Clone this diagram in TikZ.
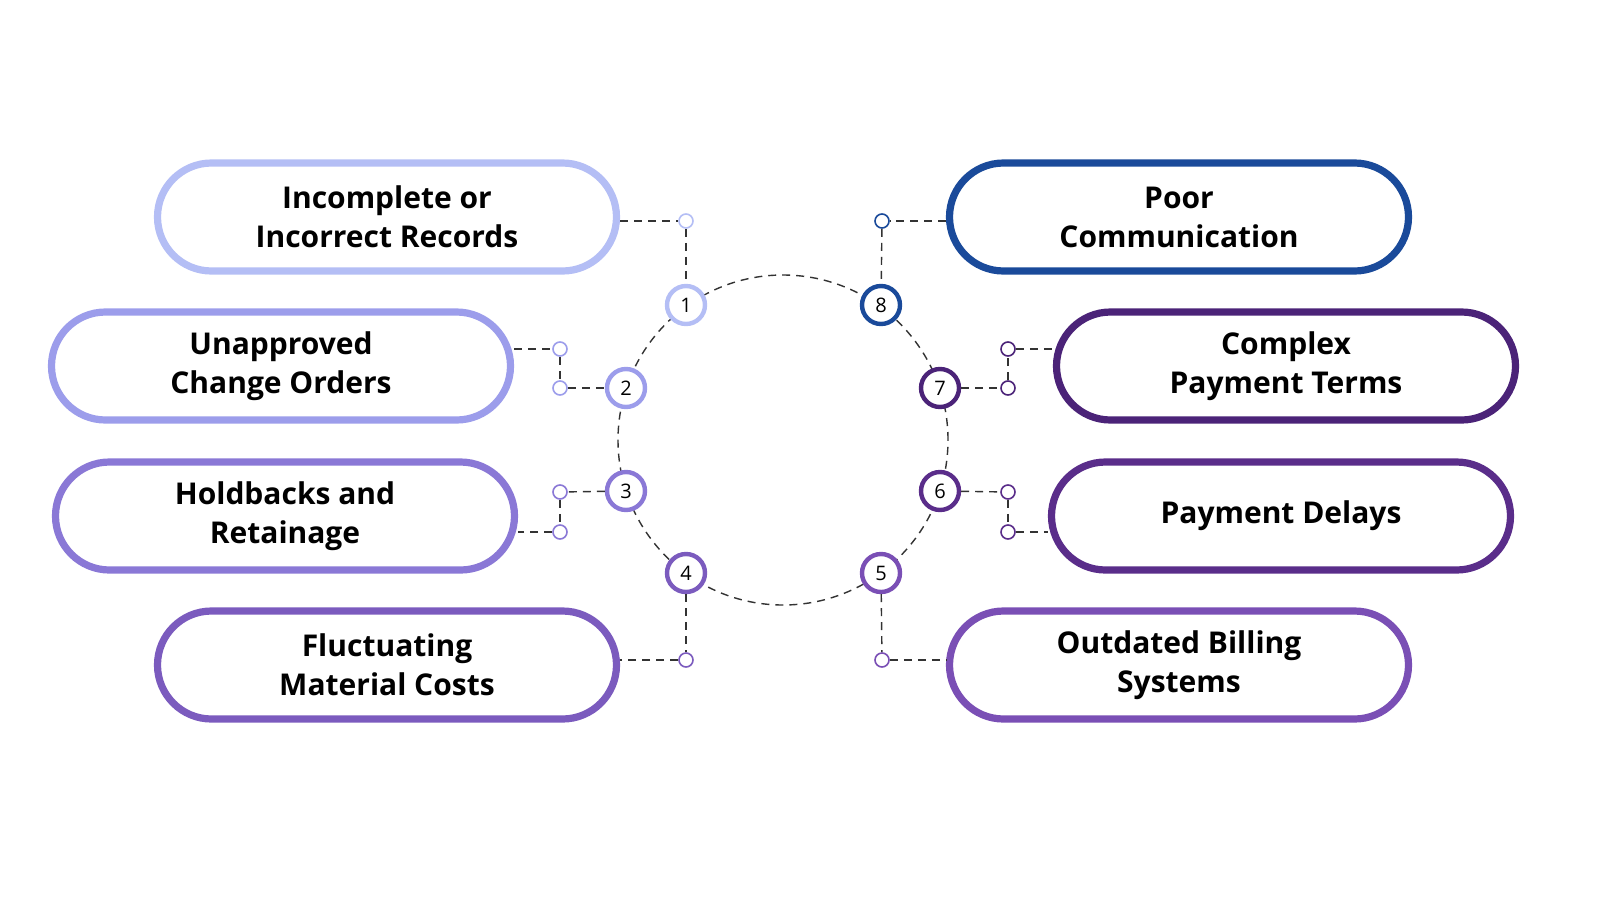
\documentclass[tikz,border=0pt]{standalone}
\usepackage{fontspec}
\setmainfont{Open Sans}
\begin{document}
\begin{tikzpicture}[x=0.5pt,y=-0.5pt,
  pill/.style={draw=#1,line width=3.6pt,rounded corners=27pt,minimum width=229.5pt,minimum height=54pt,align=center,font=\fontsize{15}{19.5}\selectfont\bfseries,fill=white},
  num/.style={circle,draw=#1,line width=2.2pt,minimum size=19pt,inner sep=0pt,fill=white,font=\fontsize{10}{12}\selectfont},
  dot/.style={circle,draw=#1,line width=0.8pt,minimum size=7pt,inner sep=0pt,fill=white},
  dln/.style={line width=0.7pt,dash pattern=on 4pt off 3pt,black!80}]
\useasboundingbox (0,0) rectangle (1600,900);
\definecolor{c1}{HTML}{B4BEF5}\definecolor{c2}{HTML}{9C9DEB}
\definecolor{c3}{HTML}{8A78D6}\definecolor{c4}{HTML}{7B5BBE}
\definecolor{c5}{HTML}{7A4FB5}\definecolor{c6}{HTML}{5A2D8A}
\definecolor{c7}{HTML}{4B2378}\definecolor{c8}{HTML}{1A4A9A}
\draw[dln] (783,440) circle[radius=82.5pt];
\node[pill=c1] (p1) at (387,217) {Incomplete or\\Incorrect Records};
\node[pill=c2] (p2) at (281,366) {Unapproved\\Change Orders};
\node[pill=c3] (p3) at (285,516) {Holdbacks and\\Retainage};
\node[pill=c4] (p4) at (387,665) {Fluctuating\\Material Costs};
\node[pill=c8] (p8) at (1179,217) {Poor\\Communication};
\node[pill=c7] (p7) at (1286,366) {Complex\\Payment Terms};
\node[pill=c6] (p6) at (1281,516) {Payment Delays};
\node[pill=c5] (p5) at (1179,665) {Outdated Billing\\Systems};
\node[num=c1] (n1) at (686,305) {1};
\node[num=c2] (n2) at (626,388) {2};
\node[num=c3] (n3) at (626,491) {3};
\node[num=c4] (n4) at (686,573) {4};
\node[num=c5] (n5) at (881,573) {5};
\node[num=c6] (n6) at (940,491) {6};
\node[num=c7] (n7) at (940,388) {7};
\node[num=c8] (n8) at (881,305) {8};
\node[dot=c1] (d1) at (686,221) {};
\node[dot=c2] (d2a) at (560,349) {};
\node[dot=c2] (d2b) at (560,388) {};
\node[dot=c3] (d3a) at (560,492) {};
\node[dot=c3] (d3b) at (560,532) {};
\node[dot=c4] (d4) at (686,660) {};
\node[dot=c8] (d8) at (882,221) {};
\node[dot=c7] (d7a) at (1008,349) {};
\node[dot=c7] (d7b) at (1008,388) {};
\node[dot=c6] (d6a) at (1008,492) {};
\node[dot=c6] (d6b) at (1008,532) {};
\node[dot=c5] (d5) at (882,660) {};
\begin{scope}[dln]
\draw (p1.east|-d1) -- (d1); \draw (d1) -- (n1);
\draw (p2.east|-d2a) -- (d2a); \draw (d2a) -- (d2b); \draw (d2b) -- (n2);
\draw (n3) -- (d3a); \draw (d3a) -- (d3b); \draw (d3b) -- (p3.east|-d3b);
\draw (n4) -- (d4); \draw (d4) -- (p4.east|-d4);
\draw (p8.west|-d8) -- (d8); \draw (d8) -- (n8);
\draw (n7) -- (d7b); \draw (d7b) -- (d7a); \draw (d7a) -- (p7.west|-d7a);
\draw (n6) -- (d6a); \draw (d6a) -- (d6b); \draw (d6b) -- (p6.west|-d6b);
\draw (n5) -- (d5); \draw (d5) -- (p5.west|-d5);
\end{scope}
\end{tikzpicture}
\end{document}
